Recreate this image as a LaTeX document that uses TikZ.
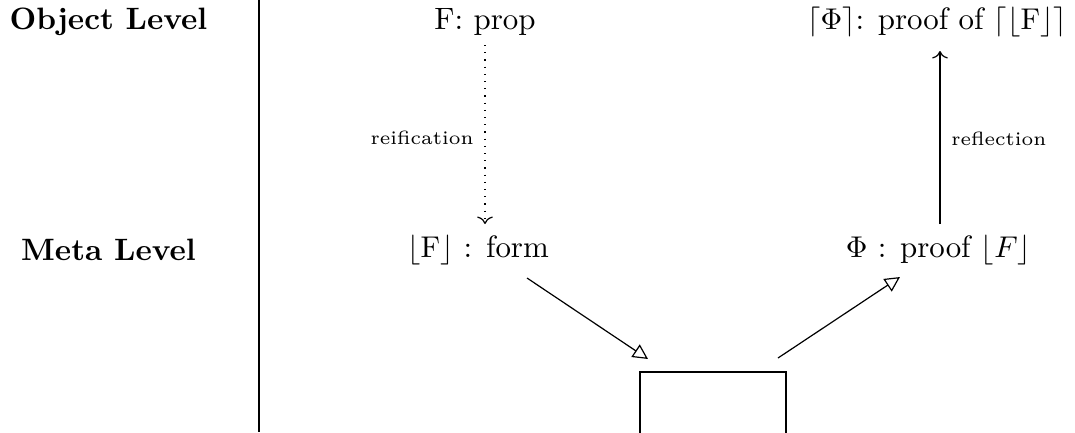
\documentclass[tikz,border=0pt]{standalone}
\usetikzlibrary{arrows.meta}
\begin{document}
\begin{tikzpicture}[x=0.11713mm, y=-0.11713mm,
  font=\fontsize{10.3}{12}\selectfont,
  lvl/.style={font=\fontsize{10.3}{12}\selectfont\bfseries, inner sep=0pt},
  term/.style={inner sep=0pt},
  lbl/.style={font=\fontsize{6.4}{7}\selectfont, inner sep=0pt},
  tri/.style={-{Triangle[open, length=5pt, width=5pt]}}]
\useasboundingbox (0,0) rectangle (1075,432);
\node[lvl] (obj) at (108.5,22) {Object Level};
\node[lvl] (meta) at (108.5,250) {Meta Level};
\coordinate (vt) at (259,0);
\coordinate (vb) at (259,432);
\draw (vt) -- (vb);
\node[term] (F) at (485,22) {F: prop};
\node[term] (PhiQ) at (937,22) {$\lceil\Phi\rceil$: proof of $\lceil\lfloor\mathrm{F}\rfloor\rceil$};
\node[term] (FF) at (478,250) {$\lfloor\mathrm{F}\rfloor$ : form};
\node[term] (Phi) at (938.5,250) {$\Phi$ : proof $\lfloor F\rfloor$};
\coordinate (r1) at (485,45);
\coordinate (r2) at (485,224);
\draw[dotted, ->] (r1) -- (r2) node[lbl, midway, left=3.6pt, yshift=-1pt] {reification};
\coordinate (f1) at (940,224);
\coordinate (f2) at (940,51);
\draw[->] (f1) -- (f2) node[lbl, midway, right=3.6pt, yshift=-0.5pt] {reflection};
\coordinate (boxtl) at (640,372);
\coordinate (boxbr) at (786,460);
\draw (boxtl) rectangle (boxbr);
\coordinate (a1) at (527,278);
\coordinate (a2) at (648,359);
\draw[tri] (a1) -- (a2);
\coordinate (b1) at (778,358);
\coordinate (b2) at (900,277);
\draw[tri] (b1) -- (b2);
\end{tikzpicture}
\end{document}
